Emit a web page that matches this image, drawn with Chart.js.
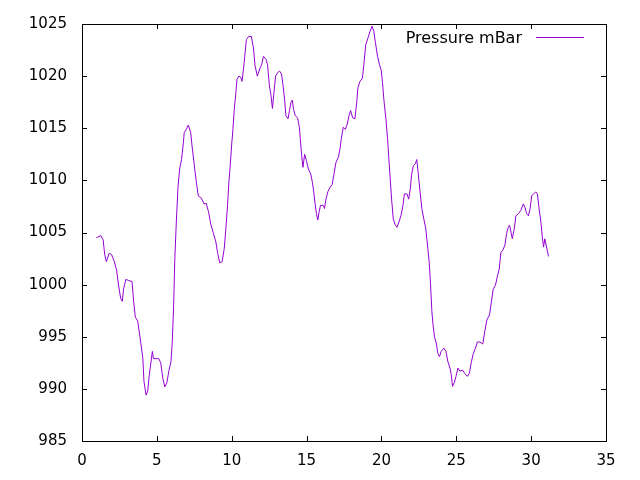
<!DOCTYPE html>
<html>
<head>
<meta charset="utf-8">
<script src="https://cdn.jsdelivr.net/npm/chart.js@4/dist/chart.umd.min.js"></script>
<style>
  html, body { margin: 0; padding: 0; background: #fff; }
  #wrap { width: 640px; height: 480px; }
</style>
</head>
<body>
<div id="wrap"><canvas id="chart" width="640" height="480"></canvas></div>
<script>
// time axis (days) and pressure readings
const days = [
  0.96, 1.25, 1.41, 1.52, 1.63, 1.81, 1.97, 2.15, 2.31, 2.44,
  2.58, 2.69, 2.78, 2.93, 3.11, 3.34, 3.45, 3.56, 3.72, 3.87,
  4.06, 4.14, 4.28, 4.39, 4.5, 4.61, 4.70, 4.77, 5.13, 5.26,
  5.4, 5.53, 5.67, 5.8, 5.94, 6.03, 6.12, 6.2, 6.3, 6.41,
  6.52, 6.65, 6.77, 6.83, 6.97, 7.10, 7.26, 7.35, 7.48, 7.64,
  7.77, 7.97, 8.15, 8.29, 8.45, 8.6, 8.76, 8.94, 9.05, 9.2,
  9.36, 9.5, 9.61, 9.72, 9.81, 9.9, 9.99, 10.08, 10.17, 10.26,
  10.35, 10.48, 10.6, 10.69, 10.78, 10.87, 10.98, 11.13,
  11.31, 11.45, 11.56, 11.71, 11.9, 12.0, 12.12, 12.3, 12.39, 12.52,
  12.63, 12.72, 12.84, 12.93, 13.06, 13.19, 13.33, 13.42, 13.53, 13.62,
  13.76, 13.86, 13.96, 14.05, 14.13, 14.25, 14.4, 14.52, 14.58, 14.67,
  14.76, 14.87, 14.99, 15.12, 15.28, 15.39, 15.48, 15.57, 15.66, 15.75,
  15.84, 15.93, 16.11, 16.2, 16.28, 16.42, 16.55, 16.71, 16.82, 16.96,
  17.12, 17.23, 17.32, 17.45, 17.59, 17.72, 17.83, 17.94, 18.08, 18.23,
  18.35, 18.43, 18.57, 18.73, 18.84, 18.95, 19.11, 19.24, 19.38, 19.49,
  19.6, 19.74, 19.87, 19.98, 20.07, 20.18, 20.3, 20.41, 20.5, 20.59,
  20.68, 20.79, 20.9, 21.04, 21.17, 21.3, 21.44, 21.53, 21.71, 21.82,
  21.93, 22.02, 22.13, 22.27, 22.36, 22.47, 22.58, 22.7, 22.83, 22.96,
  23.1, 23.19, 23.27, 23.37, 23.45, 23.54, 23.66, 23.77, 23.88, 23.99,
  24.17, 24.31, 24.44, 24.58, 24.66, 24.75, 24.87, 24.98, 25.11, 25.25,
  25.42, 25.56, 25.74, 25.87, 26.01, 26.14, 26.28, 26.41, 26.57, 26.77,
  26.9, 27.04, 27.22, 27.35, 27.47, 27.62, 27.76, 27.87, 27.98, 28.11,
  28.25, 28.36, 28.47, 28.56, 28.65, 28.74, 28.88, 28.98, 29.15, 29.3,
  29.48, 29.59, 29.7, 29.82, 29.93, 30.04, 30.17, 30.31, 30.42, 30.53,
  30.65, 30.76, 30.83, 30.91, 31.0, 31.1, 31.16
]

const pressure = [
  1004.5, 1004.7, 1004.3, 1002.85, 1002.2, 1003.0, 1002.9, 1002.25, 1001.4, 999.96,
  998.7, 998.4, 999.6, 1000.5, 1000.4, 1000.3, 998.4, 996.9, 996.5, 995.0,
  993.0, 990.7, 989.4, 989.8, 991.4, 992.6, 993.6, 992.9, 992.9, 992.5,
  991.0, 990.2, 990.6, 991.7, 992.6, 994.5, 998.0, 1002.5, 1006.0, 1009.3,
  1011.1, 1012.0, 1013.6, 1014.6, 1014.9, 1015.3, 1014.6, 1013.3, 1011.7, 1009.8,
  1008.5, 1008.3, 1007.75, 1007.8, 1007.0, 1005.8, 1005.0, 1004.1, 1003.1, 1002.1,
  1002.2, 1003.45, 1005.4, 1007.6, 1009.8, 1011.4, 1013.3, 1014.9, 1016.8, 1018.1,
  1019.7, 1020.0, 1019.9, 1019.5, 1020.6, 1021.9, 1023.5, 1023.8,
  1023.8, 1022.7, 1021.0, 1020.0, 1020.8, 1021.1, 1021.9, 1021.6, 1021.1, 1019.05,
  1018.1, 1016.9, 1018.7, 1020.0, 1020.3, 1020.5, 1020.2, 1019.2, 1017.8, 1016.2,
  1015.9, 1016.7, 1017.5, 1017.7, 1016.8, 1016.2, 1016.0, 1015.1, 1014.0, 1012.4,
  1011.25, 1012.5, 1011.9, 1011.1, 1010.6, 1009.8, 1008.9, 1007.75, 1006.8, 1006.2,
  1007.0, 1007.6, 1007.6, 1007.3, 1008.1, 1008.9, 1009.3, 1009.6, 1010.5, 1011.7,
  1012.2, 1013.0, 1014.0, 1015.1, 1014.9, 1015.4, 1016.2, 1016.7, 1016.0, 1015.9,
  1017.5, 1018.9, 1019.5, 1019.8, 1021.3, 1023.0, 1023.7, 1024.3, 1024.8, 1024.3,
  1023.2, 1021.9, 1021.1, 1020.6, 1019.4, 1017.5, 1015.9, 1014.0, 1012.0, 1010.1,
  1008.2, 1006.3, 1005.8, 1005.5, 1006.0, 1006.6, 1007.6, 1008.7, 1008.7, 1008.2,
  1009.2, 1010.6, 1011.4, 1011.6, 1012.0, 1010.5, 1008.9, 1007.3, 1006.3, 1005.4,
  1003.45, 1002.2, 1000.3, 997.4, 996.1, 995.0, 994.4, 993.4, 993.1, 993.6,
  993.9, 993.6, 992.6, 992.0, 991.4, 990.25, 990.6, 991.2, 992.0, 991.7,
  991.8, 991.5, 991.2, 991.5, 992.6, 993.4, 993.9, 994.5, 994.5, 994.3,
  995.5, 996.6, 997.1, 998.4, 999.6, 999.96, 1000.9, 1001.5, 1003.1, 1003.3,
  1003.8, 1004.9, 1005.5, 1005.7, 1005.05, 1004.4, 1005.4, 1006.6, 1006.8, 1007.1,
  1007.75, 1007.4, 1006.8, 1006.6, 1007.3, 1008.55, 1008.7, 1008.9, 1008.7, 1007.3,
  1006.0, 1004.4, 1003.6, 1004.4, 1003.8, 1003.1, 1002.7
]

const xTicks = [0, 5, 10, 15, 20, 25, 30, 35]
const yTicks = [985, 990, 995, 1000, 1005, 1010, 1015, 1020, 1025]

const lineColor = '#9400d3'
const font = { family: 'DejaVu Sans', size: 15 }

// gnuplot style frame: border box with inward ticks mirrored on all sides, key inside top right
const framePlugin = {
  id: 'frame',
  afterDatasetsDraw(chart) {
    const { ctx, chartArea: a, scales } = chart
    const tick = 5
    ctx.save()
    ctx.strokeStyle = '#000'
    ctx.lineWidth = 1
    ctx.beginPath()
    xTicks.forEach(v => {
      const x = Math.round(scales.x.getPixelForValue(v)) + 0.5
      ctx.moveTo(x, a.bottom); ctx.lineTo(x, a.bottom - tick)
      ctx.moveTo(x, a.top); ctx.lineTo(x, a.top + tick)
    })
    yTicks.forEach(v => {
      const y = Math.round(scales.y.getPixelForValue(v)) + 0.5
      ctx.moveTo(a.left, y); ctx.lineTo(a.left + tick, y)
      ctx.moveTo(a.right, y); ctx.lineTo(a.right - tick, y)
    })
    ctx.stroke()
    ctx.strokeRect(Math.round(a.left) + 0.5, Math.round(a.top) + 0.5,
      Math.round(a.right - a.left), Math.round(a.bottom - a.top))

    // key
    const label = chart.data.datasets[0].label
    ctx.fillStyle = '#000'
    ctx.font = '16px "' + font.family + '"'
    ctx.textAlign = 'right'
    ctx.textBaseline = 'alphabetic'
    ctx.fillText(label, a.right - 84, a.top + 19)
    ctx.strokeStyle = lineColor
    ctx.beginPath()
    ctx.moveTo(a.right - 70, a.top + 13.5)
    ctx.lineTo(a.right - 22, a.top + 13.5)
    ctx.stroke()
    ctx.restore()
  }
}

new Chart(document.getElementById('chart'), {
  type: 'line',
  data: {
    datasets: [{
      label: 'Pressure mBar',
      data: days.map((d, i) => ({ x: d, y: pressure[i] })),
      borderColor: lineColor,
      borderWidth: 1,
      pointRadius: 0,
      tension: 0,
      fill: false
    }]
  },
  options: {
    responsive: false,
    devicePixelRatio: 1,
    animation: false,
    layout: { padding: { top: 22, right: 34, left: 0, bottom: 0 } },
    scales: {
      x: {
        type: 'linear',
        min: 0,
        max: 35,
        afterFit(scale) { scale.height = 39 },
        afterBuildTicks(scale) { scale.ticks = xTicks.map(v => ({ value: v })) },
        grid: { display: false, drawTicks: false },
        border: { display: false },
        ticks: { color: '#000', font: font, padding: 11, maxRotation: 0, callback: v => String(v) }
      },
      y: {
        min: 985,
        max: 1025,
        afterFit(scale) { scale.width = 82 },
        afterBuildTicks(scale) { scale.ticks = yTicks.map(v => ({ value: v })) },
        grid: { display: false, drawTicks: false },
        border: { display: false },
        ticks: { color: '#000', font: font, padding: 15, callback: v => String(v) }
      }
    },
    plugins: {
      legend: { display: false },
      tooltip: { enabled: false }
    }
  },
  plugins: [framePlugin]
})
</script>
</body>
</html>
